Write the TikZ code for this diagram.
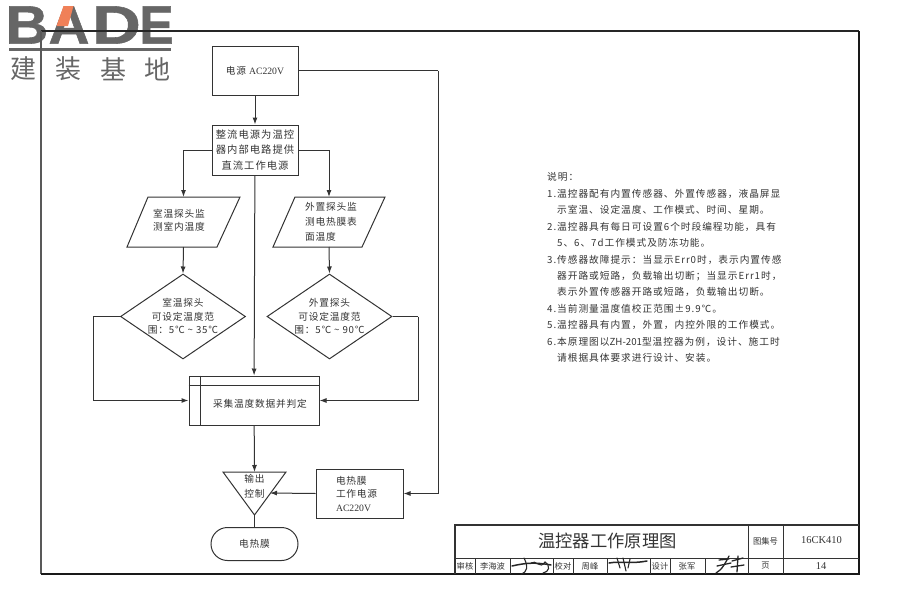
\documentclass[tikz,border=0pt]{standalone}
\usepackage{fontspec}
\setmainfont{Noto Sans CJK SC}
\newfontfamily\lat{Liberation Serif}
\newfontfamily\logofont{Liberation Sans}
\usetikzlibrary{arrows.meta,shapes.geometric}
\definecolor{ink}{HTML}{333333}
\definecolor{txt}{HTML}{333333}
\definecolor{logogray}{HTML}{666666}
\definecolor{logoorange}{HTML}{F08058}
\newcommand{\flowfont}[1]{\addfontfeature{LetterSpace=8}\fontsize{9.7}{#1}\selectfont}
\newcommand{\fcm}{\char"FF0C\relax}
\newcommand{\fcl}{\char"FF1A\relax}
\newcommand{\fsm}{\char"FF1B\relax}
\tikzset{
  x=1pt,y=-1pt,
  flow/.style={draw=ink,line width=1pt,text=txt,font=\flowfont{13.5},align=center,inner sep=0pt},
  boxnode/.style={flow,rectangle},
  dia/.style={flow,diamond,aspect=1.47,minimum width=125pt,minimum height=85pt},
  link/.style={draw=ink,line width=1pt},
  arr/.style={link,-{Latex[length=7pt,width=5pt]}},
  label/.style={text=txt,font=\flowfont{13.5},align=center,inner sep=0pt},
  tbl/.style={text=txt,font=\fontsize{8.3}{10}\selectfont,inner sep=0pt},
  latlabel/.style={text=txt,font=\lat\fontsize{10.5}{12}\selectfont,inner sep=0pt},
  logoletter/.style={text=logogray,inner sep=0pt,font=\logofont\bfseries\addfontfeature{FakeStretch=#1,FakeBold=1}\fontsize{54}{54}\selectfont},
  logocjk/.style={text=logogray,font=\fontsize{26}{26}\selectfont,inner sep=0pt},
  tline/.style={draw=ink,line width=0.8pt},
  scrib/.style={draw=black!85,line width=1.5pt,line cap=round},
}
\begin{document}
\begin{tikzpicture}
\useasboundingbox (0,0) rectangle (900,600);
% logo
\node[logoletter=1.1] (lb) at (27,25) {B};
\node[logoletter=1.05] (la) at (69,25) {A};
\node[logoletter=1.25] (ld) at (116.5,25) {D};
\node[logoletter=0.95] (le) at (156.5,25) {E};
\fill[logoorange] (63.5,6) -- (73.5,6) -- (68,26) -- (56.5,26) -- cycle;
\fill[logogray] (9,48) rectangle (171,50.5);
\node[logocjk] (c1) at (23,69) {建};
\node[logocjk] (c2) at (68.5,69) {装};
\node[logocjk] (c3) at (113.5,69) {基};
\node[logocjk] (c4) at (157.5,69) {地};
% frame
\draw[black!85,line width=1.5pt,line cap=square] (41,31) -- (859,31);
\draw[black!65,line width=1.2pt] (41,31) -- (41,574);
\draw[black!90,line width=2.2pt,line cap=square] (859,31) -- (859,574) -- (41,574);
% title block
\draw[ink,line width=1.2pt] (455,574) -- (455,525) -- (859,525);
\draw[tline] (455,558) -- (859,558);
\draw[tline] (748,525) -- (748,574) (783,525) -- (783,574);
\draw[tline,line width=0.5pt] (475,558) -- (475,574) (510,558) -- (510,574)
  (553,558) -- (553,574) (573,558) -- (573,574) (607,558) -- (607,574)
  (650,558) -- (650,574) (670,558) -- (670,574) (705,558) -- (705,574);
\node[text=txt,font=\fontsize{17.3}{18}\selectfont,inner sep=0pt] (title) at (607.5,541) {温控器工作原理图};
\node[tbl] (t1) at (765.5,541) {图集号};
\node[latlabel] (t2) at (821.5,540.5) {16CK410};
\node[tbl] (t3) at (465,566) {审核};
\node[tbl] (t4) at (492.5,566) {李海波};
\node[tbl] (t5) at (563,566) {校对};
\node[tbl] (t6) at (590,566) {周峰};
\node[tbl] (t7) at (660,566) {设计};
\node[tbl] (t8) at (687,566) {张军};
\node[tbl] (t9) at (765.5,566) {页};
\node[latlabel] (t10) at (821,566.5) {14};
% signatures
\draw[scrib] (512,566) .. controls (525,563) and (535,562) .. (551,565);
\draw[scrib,line width=1.1pt] (524,558) .. controls (528,566) and (528,572) .. (521,574);
\draw[scrib,line width=1.1pt] (531,563) .. controls (536,559) and (540,570) .. (545,562) .. controls (551,566) and (549,572) .. (543,573);
\draw[scrib] (609,563) .. controls (620,561) and (632,564) .. (647,561);
\draw[scrib,line width=1.1pt] (617,558) -- (620,568) (623,558) -- (626,571) (630,559) -- (628,568);
\draw[scrib,line width=1.3pt] (716,573) .. controls (722,570) and (726,562) .. (729,556);
\draw[scrib,line width=1.3pt] (719,560) -- (729,559) (717,566) -- (731,563) (732,561) -- (743,558) (731,567) -- (744,565) (738,556) -- (737,572);
% flow nodes
\node[boxnode,minimum width=86pt,minimum height=49pt] (power) at (255,70.5) {电源 {\lat AC220V}};
\node[boxnode,minimum width=86pt,minimum height=50pt,font=\addfontfeature{LetterSpace=10}\fontsize{10.3}{15.5}\selectfont] (rect) at (255,150) {整流电源为温控\\器内部电路提供\\直流工作电源};
\coordinate (plN) at (183.5,197);
\coordinate (plS) at (183.5,247);
\draw[link] (148,197) -- (240,197) -- (217,247) -- (127,247) -- cycle;
\node[label] (plt) at (179,220.5) {室温探头监\\测室内温度};
\coordinate (prN) at (329,197);
\coordinate (prS) at (329,247);
\draw[link] (295,197) -- (385,197) -- (362,247) -- (273,247) -- cycle;
\node[label,align=left,font=\flowfont{15}] (prt) at (331,222) {外置探头监\\测电热膜表\\面温度};
\node[dia] (dl) at (183,316.5) {室温探头\\可设定温度范\\围\fcl 5℃ {\textasciitilde} 35℃};
\node[dia] (dr) at (329.5,316.5) {外置探头\\可设定温度范\\围\fcl 5℃ {\textasciitilde} 90℃};
\node[boxnode,minimum width=130pt,minimum height=49pt] (proc) at (254,400.5) {};
\node[label] (proct) at (260,403.5) {采集温度数据并判定};
\draw[link] ([yshift=-10]proc.north west) -- ([yshift=-10]proc.north east);
\draw[link] ([xshift=12]proc.north west) -- ([xshift=12]proc.south west);
\coordinate (tl) at (223,472);
\coordinate (tr) at (286,472);
\coordinate (tb) at (254.5,515);
\coordinate (tt) at (254.5,472);
\coordinate (ti) at (270,493);
\draw[link] (tl) -- (tr) -- (tb) -- cycle;
\node[label,font=\flowfont{15}] (tri) at (254.5,486.5) {输出\\控制};
\node[boxnode,minimum width=87pt,minimum height=49pt,text width=47pt,align=left] (film) at (359.5,493.5) {电热膜\\工作电源\\{\lat AC220V}};
\node[boxnode,rounded corners=16.5pt,minimum width=87pt,minimum height=33pt] (load) at (254.5,544) {电热膜};
% connectors
\coordinate (pe) at (438,70.5);
\draw[link] (power.east) -- (pe);
\draw[arr] (pe) |- (film.east);
\draw[arr] (power) -- (rect);
\draw[arr] (rect.west) -| (plN);
\draw[arr] (rect.east) -| (prN);
\draw[arr] (rect) -- (proc);
\draw[arr] (plS) -- (dl.north);
\draw[arr] (prS) -- (dr.north);
\coordinate (ll) at (93,316.5);
\coordinate (rr) at (418,316.5);
\draw[link] (dl.west) -- (ll);
\draw[arr] (ll) |- (proc.west);
\draw[link] (dr.east) -- (rr);
\draw[arr] (rr) |- (proc.east);
\draw[arr] (proc) -- (tt);
\draw[arr] (film.west) -- (ti);
\draw[link] (tb) -- (load.north);
% notes
\node[anchor=north west,text=txt,inner sep=0pt,align=left,font=\addfontfeature{LetterSpace=10}\fontsize{9.7}{16.45}\selectfont] (notes) at (547,172.5) {说明\fcl\\
1.温控器配有内置传感器、外置传感器\fcm 液晶屏显\\
\hspace{10pt}示室温、设定温度、工作模式、时间、星期。\\
2.温控器具有每日可设置6个时段编程功能\fcm 具有\\
\hspace{10pt}5、6、7d工作模式及防冻功能。\\
3.传感器故障提示\fcl 当显示Err0时\fcm 表示内置传感\\
\hspace{10pt}器开路或短路\fcm 负载输出切断\fsm 当显示Err1时\fcm\\
\hspace{10pt}表示外置传感器开路或短路\fcm 负载输出切断。\\
4.当前测量温度值校正范围±9.9℃。\\
5.温控器具有内置\fcm 外置\fcm 内控外限的工作模式。\\
6.本原理图以{\addfontfeature{LetterSpace=0}ZH-201}型温控器为例\fcm 设计、施工时\\
\hspace{10pt}请根据具体要求进行设计、安装。};
\end{tikzpicture}
\end{document}
